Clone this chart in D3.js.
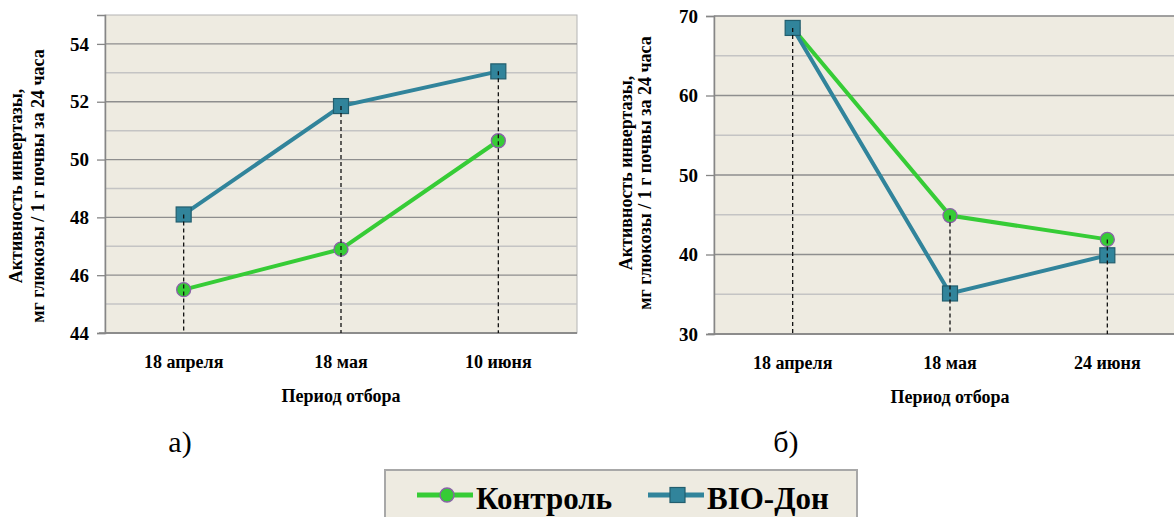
<!DOCTYPE html>
<html lang="ru">
<head>
	<meta charset="UTF-8">
	<title>Активность инвертазы</title>
	<script src="https://d3js.org/d3.v7.min.js"></script>
	<style>
		body { margin: 0; background: #fff; }
	</style>
</head>
<body>
	<svg width="1174" height="517" style="font-family: 'DejaVu Serif', 'Liberation Serif', serif;"></svg>
	<script>

		// --- data ---
		var datesA = ["18 апреля", "18 мая", "10 июня"];
		var controlA = [45.5, 46.9, 50.65];
		var bioA = [48.1, 51.85, 53.05];
		var ticksA = [44, 46, 48, 50, 52, 54];

		var datesB = ["18 апреля", "18 мая", "24 июня"];
		var controlB = [68.5, 44.9, 41.9];
		var bioB = [68.5, 35.1, 39.9];
		var ticksB = [30, 40, 50, 60, 70];

		var seriesNames = ["Контроль", "BIO-Дон"];
		var yTitle1 = "Активность инвертазы,";
		var yTitle2 = "мг глюкозы / 1 г почвы за 24 часа";
		var xTitle = "Период отбора";

		var green = "#36cc36", teal = "#31849b";
		var serif = "'Liberation Serif', 'DejaVu Serif', serif";

		var svg = d3.select("svg");

		function panel(opt) {
			var w = 472, h = opt.h;
			var g = svg.append("g")
				.attr("transform", "translate(" + opt.left + "," + opt.top + ")");

			var x = d3.scaleBand().domain(opt.cats).range([0, w]);
			var y = d3.scaleLinear().domain(opt.domain).range([h, 0]);

			// plot background
			g.append("rect")
				.attr("width", w).attr("height", h)
				.attr("fill", "#eeebe1")
				.attr("stroke", "#b4b4b4");

			// minor grid
			g.selectAll(".minor")
				.data(opt.minor)
				.enter().append("line")
				.attr("x1", 0).attr("x2", w)
				.attr("y1", function(d) { return y(d); })
				.attr("y2", function(d) { return y(d); })
				.attr("stroke", "#c4c4c4").attr("stroke-width", 1.5);

			// major grid
			g.selectAll(".major")
				.data(opt.ticks)
				.enter().append("line")
				.attr("x1", 0).attr("x2", w)
				.attr("y1", function(d) { return y(d); })
				.attr("y2", function(d) { return y(d); })
				.attr("stroke", "#8e8e8e").attr("stroke-width", 1.3);

			// y axis
			var ya = g.append("g")
				.call(d3.axisLeft(y).tickValues(opt.ticks).tickSize(8).tickPadding(8))
				.attr("font-family", null);
			ya.selectAll("line").attr("stroke", "#868686").attr("stroke-width", 1.3);
			ya.select(".domain").attr("stroke", "#868686").attr("stroke-width", 1.5);
			ya.selectAll("text")
				.attr("fill", "#000")
				.style("font-family", serif)
				.style("font-size", "19px").style("font-weight", "bold");

			// x axis line
			g.append("line")
				.attr("x1", -6).attr("x2", w)
				.attr("y1", h).attr("y2", h)
				.attr("stroke", "#868686").attr("stroke-width", 1.5);

			// x tick labels
			g.selectAll(".xlab")
				.data(opt.cats)
				.enter().append("text")
				.attr("x", function(d) { return x(d) + x.bandwidth() / 2; })
				.attr("y", h + 35)
				.attr("text-anchor", "middle")
				.style("font-family", serif)
				.style("font-size", "18px").style("font-weight", "bold")
				.text(function(d) { return d; });

			// x title
			g.append("text")
				.attr("x", w / 2)
				.attr("y", h + 69)
				.attr("text-anchor", "middle")
				.style("font-family", serif)
				.style("font-size", "18px").style("font-weight", "bold")
				.text(xTitle);

			// y title
			g.append("text")
				.attr("transform", "translate(" + opt.ytx1 + "," + opt.tyc + ") rotate(-90)")
				.attr("text-anchor", "middle")
				.style("font-family", serif)
				.style("font-size", "18px").style("font-weight", "bold")
				.text(yTitle1);
			g.append("text")
				.attr("transform", "translate(" + opt.ytx2 + "," + opt.tyc + ") rotate(-90)")
				.attr("text-anchor", "middle")
				.style("font-family", serif)
				.style("font-size", "18px").style("font-weight", "bold")
				.text(yTitle2);

			var cx = function(d, i) { return x(opt.cats[i]) + x.bandwidth() / 2; };

			var line = d3.line()
				.x(function(d, i) { return cx(d, i); })
				.y(function(d) { return y(d); });

			g.append("path").datum(opt.control)
				.attr("d", line).attr("fill", "none")
				.attr("stroke", green).attr("stroke-width", 4);
			g.append("path").datum(opt.bio)
				.attr("d", line).attr("fill", "none")
				.attr("stroke", teal).attr("stroke-width", 4);

			g.selectAll(".ctl")
				.data(opt.control)
				.enter().append("circle")
				.attr("cx", cx)
				.attr("cy", function(d) { return y(d); })
				.attr("r", 7)
				.attr("fill", green)
				.attr("stroke", "#8a62a8").attr("stroke-width", 1.3);

			g.selectAll(".bio")
				.data(opt.bio)
				.enter().append("rect")
				.attr("x", function(d, i) { return cx(d, i) - 7.5; })
				.attr("y", function(d) { return y(d) - 7.5; })
				.attr("width", 15).attr("height", 15)
				.attr("fill", teal)
				.attr("stroke", "#225e6e").attr("stroke-width", 1.2);

			// drop lines
			g.selectAll(".drop")
				.data(opt.cats)
				.enter().append("line")
				.attr("x1", function(d, i) { return cx(d, i); })
				.attr("x2", function(d, i) { return cx(d, i); })
				.attr("y1", function(d, i) { return y(Math.max(opt.control[i], opt.bio[i])); })
				.attr("y2", h)
				.attr("stroke", "#111").attr("stroke-width", 1.3)
				.attr("stroke-dasharray", "4,3");

			// panel letter
			svg.append("text")
				.attr("x", opt.letterX)
				.attr("y", 452)
				.attr("text-anchor", "middle")
				.style("font-family", serif)
				.style("font-size", "30px")
				.text(opt.letter);
		}

		panel({
			left: 105, top: 15, h: 318,
			cats: datesA, control: controlA, bio: bioA,
			domain: [44, 55], ticks: ticksA,
			minor: d3.range(45, 55, 2),
			ytx1: -83, ytx2: -61, tyc: 171,
			letter: "а)", letterX: 180
		});

		panel({
			left: 714, top: 16, h: 318,
			cats: datesB, control: controlB, bio: bioB,
			domain: [30, 70], ticks: ticksB,
			minor: [35, 45, 55, 65],
			ytx1: -82, ytx2: -63, tyc: 157,
			letter: "б)", letterX: 786
		});

		// legend
		var leg = svg.append("g").attr("transform", "translate(385,470)");
		leg.append("rect")
			.attr("width", 472).attr("height", 60)
			.attr("fill", "#eeebe1")
			.attr("stroke", "#a8a8a8").attr("stroke-width", 2);

		var legX = [32, 263];
		var legColors = [green, teal];
		seriesNames.forEach(function(name, i) {
			var item = leg.append("g").attr("transform", "translate(" + legX[i] + ",25)");
			item.append("line")
				.attr("x1", 0).attr("x2", 56)
				.attr("stroke", legColors[i]).attr("stroke-width", 5);
			if (i === 0) {
				item.append("circle").attr("cx", 30).attr("r", 7)
					.attr("fill", green).attr("stroke", "#8a62a8").attr("stroke-width", 1.3);
			} else {
				item.append("rect").attr("x", 22).attr("y", -7.5)
					.attr("width", 15).attr("height", 15)
					.attr("fill", teal).attr("stroke", "#225e6e").attr("stroke-width", 1.2);
			}
			item.append("text")
				.attr("x", 59).attr("y", 14)
				.style("font-family", serif)
				.style("font-size", "31px").style("font-weight", "bold")
				.text(name);
		});

	</script>
</body>
</html>
